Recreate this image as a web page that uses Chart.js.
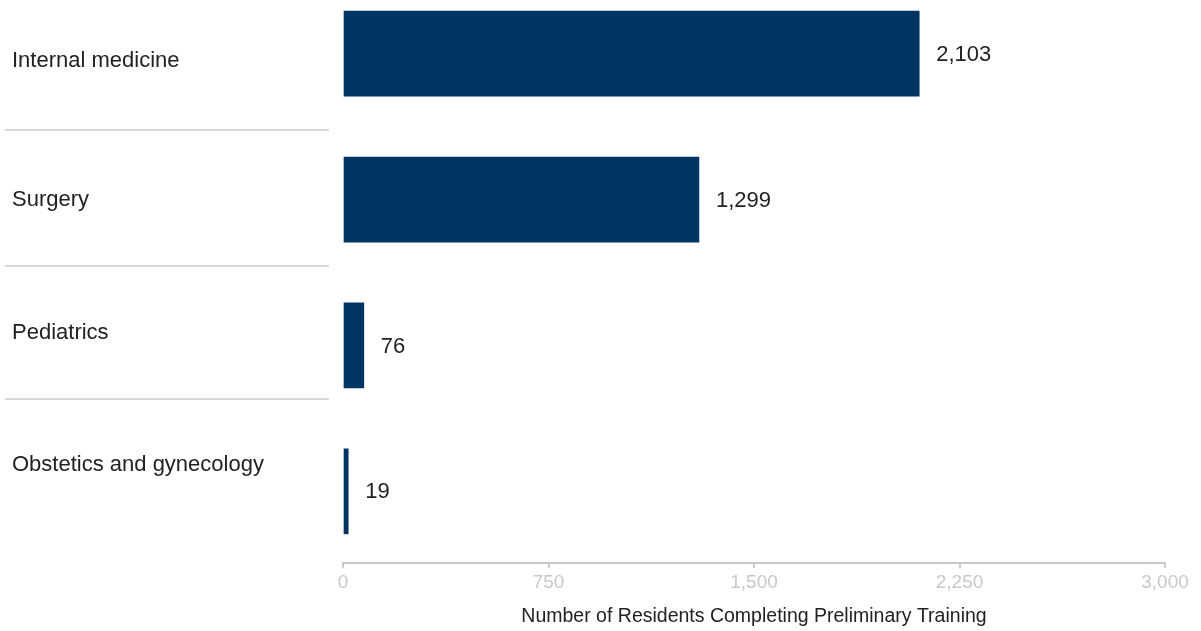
<!DOCTYPE html>
<html>
<head>
<meta charset="utf-8">
<script src="https://cdn.jsdelivr.net/npm/chart.js@4"></script>
<style>
  html, body { margin: 0; padding: 0; background: #fff; }
  #wrap { width: 1201px; height: 631px; position: relative; }
</style>
</head>
<body>
<div id="wrap"><canvas id="chart"></canvas></div>
<script>
/* global Chart */

const CATEGORIES = ["Internal medicine", "Surgery", "Pediatrics", "Obstetics and gynecology"];
const RESIDENTS = [2103, 1299, 76, 19];
const X_TICKS = [0, 750, 1500, 2250, 3000];

// décalage vertical des libellés par rapport à la barre (en lignes)
const LABEL_SHIFT = [0.05, 0, -0.086, -0.18];

const BAR_COLOR = "#003463";
const TEXT_COLOR = "#222222";
const AXIS_COLOR = "#c8c8c8";
const FONT = "'Liberation Sans', Arial, Helvetica, sans-serif";

const fmt = v => v.toLocaleString("en-US");

// Valeurs au bout des barres
const valueLabels = {
    id: "valueLabels",
    afterDatasetsDraw(chart) {
        const ctx = chart.ctx;
        const meta = chart.getDatasetMeta(0);
        ctx.save();
        ctx.font = "22px " + FONT;
        ctx.fillStyle = TEXT_COLOR;
        ctx.textAlign = "left";
        ctx.textBaseline = "middle";
        meta.data.forEach((bar, i) => {
            ctx.fillText(fmt(RESIDENTS[i]), bar.x + 17, bar.y + 1);
        });
        ctx.restore();
    }
};

// Séparateurs entre les lignes de libellés
const rowSeparators = {
    id: "rowSeparators",
    afterDraw(chart) {
        const y = chart.scales.y;
        const ctx = chart.ctx;
        const pos = y.ticks.map(t => y.getPixelForValue(t.value));
        ctx.save();
        ctx.strokeStyle = "#d9d9d9";
        ctx.lineWidth = 2;
        for (let i = 0; i < pos.length - 1; i++) {
            const py = Math.round((pos[i] + pos[i + 1]) / 2);
            ctx.beginPath();
            ctx.moveTo(y.left - 7, py);
            ctx.lineTo(y.right - 14, py);
            ctx.stroke();
        }
        ctx.restore();
    }
};

new Chart(document.getElementById("chart"), {
    type: "bar",
    data: {
        datasets: [{
            data: RESIDENTS.map((v, i) => ({ x: v, y: i })),
            backgroundColor: BAR_COLOR,
            borderWidth: 0,
            barThickness: 85,
            clip: false
        }]
    },
    options: {
        indexAxis: "y",
        responsive: true,
        maintainAspectRatio: false,
        animation: false,
        layout: { padding: { top: 0, left: 12, right: 36, bottom: 3 } },
        plugins: { legend: { display: false }, tooltip: { enabled: false } },
        scales: {
            x: {
                type: "linear",
                min: 0,
                max: 3000,
                afterBuildTicks(scale) { scale.ticks = X_TICKS.map(v => ({ value: v })); },
                grid: { drawOnChartArea: false, drawTicks: true, tickLength: 5, color: AXIS_COLOR, lineWidth: 2 },
                border: { display: true, color: AXIS_COLOR, width: 2 },
                ticks: {
                    color: AXIS_COLOR,
                    padding: 4,
                    font: { family: "'Liberation Sans Narrow', " + FONT, size: 19 },
                    callback: v => fmt(v)
                },
                title: {
                    display: true,
                    text: "Number of Residents Completing Preliminary Training",
                    color: TEXT_COLOR,
                    font: { family: FONT, size: 19.5 },
                    padding: { top: 6, bottom: 0 }
                }
            },
            y: {
                type: "linear",
                reverse: true,
                offset: false,
                min: -0.257,
                max: 3.49,
                afterFit(scale) { scale.width = 331; },
                afterBuildTicks(scale) {
                    scale.ticks = CATEGORIES.map((c, i) => ({ value: i + LABEL_SHIFT[i] }));
                },
                grid: { display: false, offset: false },
                border: { display: false },
                ticks: {
                    crossAlign: "far",
                    color: TEXT_COLOR,
                    font: { family: FONT, size: 22 },
                    callback: (v, i) => CATEGORIES[i]
                }
            }
        }
    },
    plugins: [valueLabels, rowSeparators]
});
</script>
</body>
</html>
